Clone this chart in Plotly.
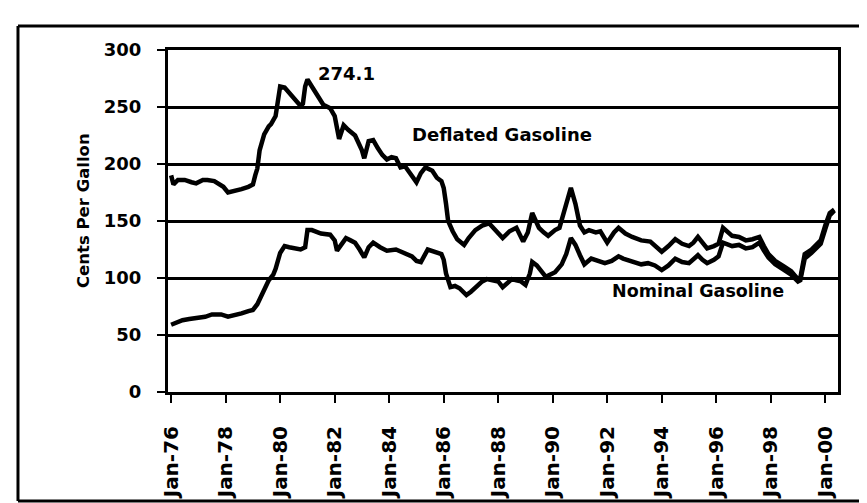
import plotly.graph_objects as go

# ---------------- data ----------------
deflated_dates = [
    "1976-01", "1976-02", "1976-04", "1976-07", "1976-10", "1976-12", "1977-03", "1977-05",
    "1977-08", "1977-10", "1977-12", "1978-02", "1978-05", "1978-08", "1978-11", "1979-01",
    "1979-02", "1979-03", "1979-04", "1979-06", "1979-08", "1979-09", "1979-11", "1979-12",
    "1980-01", "1980-03", "1980-05", "1980-08", "1980-10", "1980-11", "1980-12", "1981-01",
    "1981-03", "1981-06", "1981-08", "1981-11", "1982-01", "1982-03", "1982-05", "1982-07",
    "1982-10", "1983-01", "1983-02", "1983-04", "1983-06", "1983-08", "1983-10", "1983-12",
    "1984-02", "1984-04", "1984-06", "1984-08", "1984-10", "1985-01", "1985-03", "1985-05",
    "1985-08", "1985-10", "1985-12", "1986-01", "1986-02", "1986-03", "1986-05", "1986-07",
    "1986-10", "1986-12", "1987-03", "1987-06", "1987-09", "1987-12", "1988-03", "1988-06",
    "1988-09", "1988-12", "1989-02", "1989-04", "1989-07", "1989-09", "1989-11", "1990-02",
    "1990-04", "1990-06", "1990-09", "1990-11", "1991-01", "1991-03", "1991-05", "1991-08",
    "1991-10", "1992-01", "1992-04", "1992-06", "1992-09", "1992-12", "1993-04", "1993-08",
    "1993-11", "1994-01", "1994-04", "1994-07", "1994-10", "1995-01", "1995-03", "1995-05",
    "1995-07", "1995-09", "1995-12", "1996-02", "1996-04", "1996-06", "1996-08", "1996-11",
    "1997-02", "1997-05", "1997-08", "1997-10", "1997-12", "1998-03", "1998-05", "1998-07",
    "1998-10", "1999-01", "1999-02", "1999-04", "1999-07", "1999-09", "1999-11", "2000-01",
    "2000-03", "2000-05",
]
deflated_values = [
    190, 182, 186, 186, 184, 183, 186, 186,
    185, 183, 180, 175, 176, 178, 180, 182,
    190, 196, 212, 226, 233, 235, 242, 258,
    268, 267, 262, 255, 251, 253, 268, 274.1,
    268, 258, 252, 249, 242, 222, 234, 230,
    225, 212, 205, 220, 221, 214, 208, 204,
    206, 205, 197, 198, 192, 184, 192, 197,
    194, 188, 185, 179, 165, 150, 141, 134,
    129, 135, 142, 146, 148, 141, 135, 141,
    144, 132, 140, 157, 144, 140, 137, 142,
    144, 158, 179, 165, 146, 140, 142, 140,
    141, 131, 140, 144, 139, 136, 133, 132,
    127, 123, 128, 134, 130, 128, 131, 136,
    131, 126, 128, 130, 144, 140, 137, 136,
    133, 134, 136, 128, 121, 115, 113, 110,
    106, 99, 100, 121, 125, 129, 133, 146,
    157, 160,
]

nominal_dates = [
    "1976-01", "1976-03", "1976-06", "1976-09", "1977-01", "1977-04", "1977-07", "1977-11",
    "1978-02", "1978-05", "1978-08", "1978-11", "1979-01", "1979-03", "1979-05", "1979-07",
    "1979-08", "1979-10", "1979-11", "1980-01", "1980-03", "1980-05", "1980-07", "1980-10",
    "1980-12", "1981-01", "1981-03", "1981-05", "1981-07", "1981-11", "1982-01", "1982-02",
    "1982-04", "1982-06", "1982-08", "1982-10", "1982-12", "1983-02", "1983-04", "1983-06",
    "1983-09", "1983-12", "1984-04", "1984-08", "1984-11", "1985-01", "1985-03", "1985-06",
    "1985-09", "1985-12", "1986-01", "1986-02", "1986-04", "1986-06", "1986-08", "1986-11",
    "1987-01", "1987-03", "1987-06", "1987-08", "1987-11", "1988-01", "1988-03", "1988-05",
    "1988-07", "1988-09", "1988-11", "1989-01", "1989-03", "1989-04", "1989-06", "1989-08",
    "1989-10", "1989-12", "1990-02", "1990-05", "1990-07", "1990-09", "1990-11", "1991-01",
    "1991-03", "1991-06", "1991-09", "1991-12", "1992-03", "1992-06", "1992-08", "1992-10",
    "1993-01", "1993-04", "1993-07", "1993-10", "1994-01", "1994-04", "1994-07", "1994-10",
    "1995-01", "1995-03", "1995-05", "1995-07", "1995-09", "1995-12", "1996-02", "1996-04",
    "1996-06", "1996-08", "1996-11", "1997-02", "1997-05", "1997-08", "1997-10", "1997-12",
    "1998-03", "1998-05", "1998-07", "1998-10", "1999-01", "1999-02", "1999-04", "1999-07",
    "1999-09", "1999-11", "2000-01", "2000-03", "2000-05",
]
nominal_values = [
    59, 61, 63, 64, 65, 66, 68, 68,
    66, 67, 69, 71, 72, 77, 85, 93,
    98, 103, 108, 122, 128, 127, 126, 125,
    127, 142, 142, 140, 139, 138, 133, 124,
    130, 135, 133, 131, 125, 118, 127, 131,
    127, 124, 125, 122, 119, 115, 114, 125,
    123, 121, 116, 104, 92, 93, 91, 85,
    88, 92, 97, 99, 98, 97, 92, 96,
    99, 98, 97, 94, 104, 114, 111, 106,
    101, 103, 105, 112, 121, 135, 129, 120,
    112, 117, 115, 113, 115, 119, 117, 116,
    114, 112, 113, 111, 107, 111, 117, 114,
    113, 116, 120, 116, 113, 116, 119, 131,
    129, 128, 129, 126, 127, 131, 124, 118,
    112, 110, 107, 103, 97, 98, 117, 122,
    126, 130, 143, 155, 159,
]

tick_dates = ["1976-01-01", "1978-01-01", "1980-01-01", "1982-01-01", "1984-01-01",
              "1986-01-01", "1988-01-01", "1990-01-01", "1992-01-01", "1994-01-01",
              "1996-01-01", "1998-01-01", "2000-01-01"]
tick_labels = ["Jan-76", "Jan-78", "Jan-80", "Jan-82", "Jan-84", "Jan-86", "Jan-88",
               "Jan-90", "Jan-92", "Jan-94", "Jan-96", "Jan-98", "Jan-00"]

y_title = "Cents Per Gallon"
peak_label = "274.1"
deflated_label = "Deflated Gasoline"
nominal_label = "Nominal Gasoline"

# ---------------- figure ----------------
FONT = "DejaVu Sans"


def bold(size):
    return dict(family=FONT, size=size, color="black", weight="bold")


fig = go.Figure()
fig.add_trace(go.Scatter(x=deflated_dates, y=deflated_values, mode="lines",
                         line=dict(color="black", width=4.5), name=deflated_label,
                         showlegend=False))
fig.add_trace(go.Scatter(x=nominal_dates, y=nominal_values, mode="lines",
                         line=dict(color="black", width=4.5), name=nominal_label,
                         showlegend=False))

fig.update_layout(
    width=867, height=503,
    margin=dict(l=160, r=37, t=42, b=119),
    paper_bgcolor="white", plot_bgcolor="white",
    font=dict(family=FONT, color="black"),
    xaxis=dict(
        type="date", range=["1975-11-20", "2000-06-20"],
        showgrid=False, zeroline=False,
        showline=True, linecolor="black", linewidth=3, mirror=True,
        ticks="outside", ticklen=8, tickwidth=2, tickcolor="black",
        tickvals=tick_dates, ticktext=tick_labels, tickangle=-90,
        ticklabelstandoff=15,
        tickfont=bold(20),
    ),
    yaxis=dict(
        range=[0, 300], dtick=50, tick0=0,
        showgrid=True, gridcolor="black", gridwidth=2.5, zeroline=False,
        showline=True, linecolor="black", linewidth=3, mirror=True,
        ticks="outside", ticklen=8, tickwidth=2, tickcolor="black",
        ticklabelstandoff=12,
        tickfont=bold(18),
    ),
    annotations=[
        dict(xref="paper", yref="paper", x=-0.1269, y=0.532, text=y_title,
             textangle=-90, showarrow=False, xanchor="center", yanchor="middle",
             font=bold(16.5)),
        dict(x="1981-05-01", y=279.5, text=peak_label, showarrow=False, xanchor="left",
             yanchor="middle", font=bold(18)),
        dict(x="1984-10-01", y=226, text=deflated_label, showarrow=False, xanchor="left",
             yanchor="middle", font=bold(18)),
        dict(x="1992-02-01", y=89, text=nominal_label, showarrow=False, xanchor="left",
             yanchor="middle", font=bold(17.5)),
    ],
    shapes=[
        dict(type="line", xref="paper", yref="paper", x0=-0.2239, x1=-0.2239,
             y0=1.0702, y1=-0.3187, line=dict(color="black", width=3)),
        dict(type="line", xref="paper", yref="paper", x0=-0.2239, x1=1.0478,
             y0=1.0702, y1=1.0702, line=dict(color="black", width=3)),
        dict(type="line", xref="paper", yref="paper", x0=-0.2239, x1=1.0478,
             y0=-0.3187, y1=-0.3187, line=dict(color="black", width=3)),
    ],
)

fig.write_html("out.html")
